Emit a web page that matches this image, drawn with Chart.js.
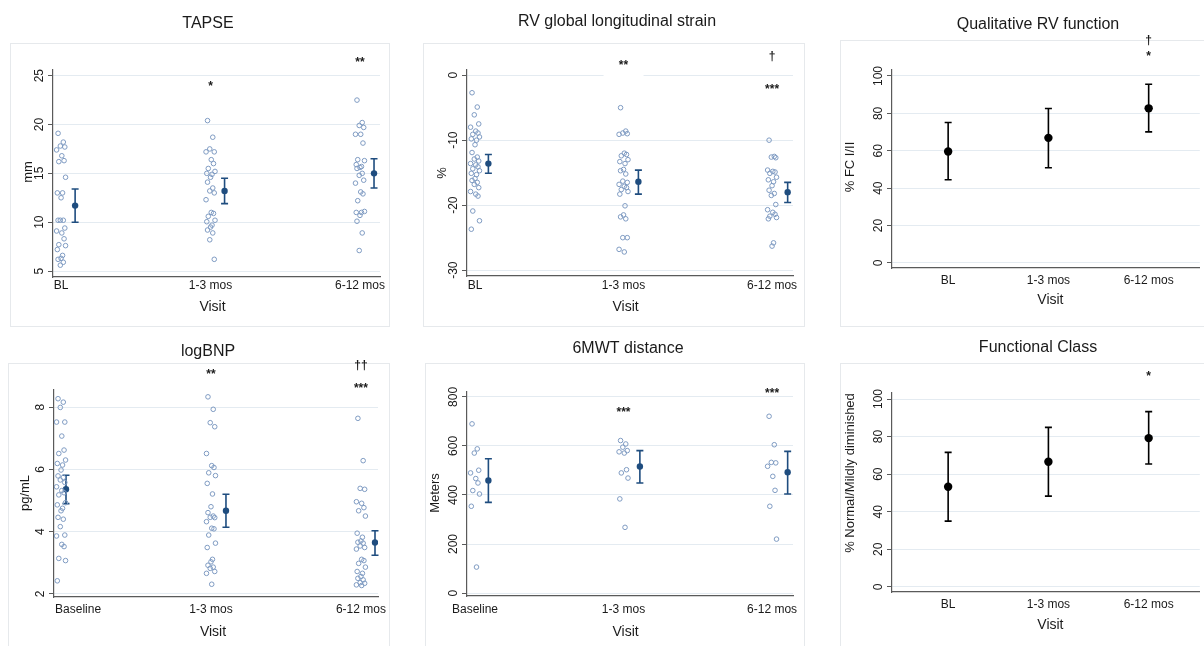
<!DOCTYPE html>
<html>
<head>
<meta charset="utf-8">
<script src="https://cdn.jsdelivr.net/npm/chart.js@4.4.1/dist/chart.umd.min.js"></script>
<style>
  body { margin: 0; width: 1204px; height: 646px; overflow: hidden; background: #fff; position: relative; }
  .caja { position: absolute; border: 1px solid #e6e9ec; }
  canvas { position: absolute; left: 0; top: 0; }
</style>
</head>
<body>
<div class="caja" style="left:10px;top:43px;width:378px;height:282px"></div>
<div class="caja" style="left:423px;top:43px;width:380px;height:282px"></div>
<div class="caja" style="left:840px;top:40px;width:400px;height:285px"></div>
<div class="caja" style="left:8px;top:363px;width:380px;height:300px"></div>
<div class="caja" style="left:425px;top:363px;width:378px;height:300px"></div>
<div class="caja" style="left:840px;top:363px;width:400px;height:300px"></div>

<canvas id="g1" width="1204" height="646"></canvas>
<canvas id="g2" width="1204" height="646"></canvas>
<canvas id="g3" width="1204" height="646"></canvas>
<canvas id="g4" width="1204" height="646"></canvas>
<canvas id="g5" width="1204" height="646"></canvas>
<canvas id="g6" width="1204" height="646"></canvas>

<script>
// Etiquetas de las visitas
const visitas = ['BL', '1-3 mos', '6-12 mos'];
const visitasBNP = ['Baseline', '1-3 mos', '6-12 mos'];

// TAPSE (mm)
const tapseBL = [19.1, 18.2, 17.8, 17.7, 17.4, 16.8, 16.3, 16.2, 14.6, 13.0, 13.0, 12.5, 10.2, 10.2, 10.2, 9.4, 9.1, 8.9, 8.3, 7.7, 7.6, 7.2, 6.6, 6.3, 6.2, 5.9, 5.6];
const tapse13 = [20.4, 18.7, 17.5, 17.2, 17.2, 16.4, 16.0, 15.5, 15.2, 15.0, 14.9, 14.6, 14.1, 13.5, 13.2, 13.0, 12.3, 11.0, 10.9, 10.6, 10.2, 10.05, 9.7, 9.5, 9.2, 8.9, 8.2, 6.2];
const tapse612 = [22.5, 20.2, 19.9, 19.7, 19.0, 19.0, 18.1, 16.4, 16.3, 15.9, 15.7, 15.6, 15.5, 15.0, 14.8, 14.3, 14.0, 13.1, 12.9, 12.2, 11.1, 11.0, 11.0, 10.7, 10.1, 8.9, 7.1];
const tapseMedia = [11.7, 13.2, 15.0];
const tapseInf = [10.0, 11.9, 13.5];
const tapseSup = [13.4, 14.5, 16.5];
const tapseTicks = [5, 10, 15, 20, 25];

// RV global longitudinal strain (%)
const rvglsBL = [-2.7, -4.9, -6.1, -7.5, -8.0, -8.6, -8.9, -9.1, -9.5, -9.8, -10.0, -10.7, -11.9, -12.6, -12.9, -13.2, -13.6, -13.8, -14.1, -14.4, -14.7, -15.1, -15.3, -15.9, -16.2, -16.5, -16.8, -17.3, -17.9, -18.3, -18.6, -20.9, -22.4, -23.7];
const rvgls13 = [-5.0, -8.6, -8.9, -9.0, -9.1, -12.0, -12.2, -12.4, -13.0, -13.3, -13.6, -14.5, -14.7, -15.2, -16.3, -16.5, -16.8, -17.1, -17.3, -17.6, -17.9, -18.3, -20.1, -21.5, -21.8, -22.1, -25.0, -25.0, -26.8, -27.2];
const rvgls612 = [-10.0, -12.5, -12.6, -12.7, -14.6, -14.8, -14.9, -15.1, -15.7, -16.1, -16.4, -17.0, -17.7, -18.2, -18.5, -19.9, -20.7, -21.1, -21.4, -21.7, -21.9, -22.1, -25.8, -26.3];
const rvglsMedia = [-13.6, -16.4, -18.0];
const rvglsInf = [-15.1, -18.3, -19.6];
const rvglsSup = [-12.2, -14.6, -16.5];
const rvglsTicks = [-30, -20, -10, 0];

// Qualitative RV function (% FC I/II)
const cualMedia = [59.6, 66.9, 82.7];
const cualInf = [44.5, 50.9, 70.1];
const cualSup = [75.1, 82.6, 95.6];
const pctTicks = [0, 20, 40, 60, 80, 100];

// logBNP (pg/mL)
const bnpBL = [8.27, 8.16, 7.99, 7.52, 7.52, 7.07, 6.62, 6.51, 6.30, 6.19, 6.14, 5.98, 5.79, 5.74, 5.66, 5.58, 5.44, 5.32, 5.25, 5.18, 4.93, 4.86, 4.75, 4.67, 4.46, 4.40, 4.16, 3.89, 3.86, 3.59, 3.52, 3.14, 3.07, 2.42];
const bnp13 = [8.33, 7.93, 7.50, 7.37, 6.51, 6.12, 6.06, 5.89, 5.80, 5.55, 5.21, 4.80, 4.61, 4.50, 4.46, 4.45, 4.32, 4.11, 4.09, 3.89, 3.63, 3.49, 3.11, 3.03, 2.92, 2.86, 2.82, 2.72, 2.66, 2.31];
const bnp612 = [7.64, 6.28, 5.39, 5.36, 4.96, 4.91, 4.77, 4.67, 4.50, 3.95, 3.82, 3.70, 3.66, 3.63, 3.54, 3.49, 3.44, 3.11, 3.07, 2.98, 2.86, 2.72, 2.66, 2.56, 2.50, 2.45, 2.36, 2.34, 2.29, 2.27];
const bnpMedia = [5.36, 4.67, 3.65];
const bnpInf = [4.90, 4.14, 3.24];
const bnpSup = [5.81, 5.20, 4.03];
const bnpTicks = [2, 4, 6, 8];

// 6MWT distance (Meters)
const mwtBL = [690, 588, 571, 501, 490, 467, 449, 418, 404, 354, 106];
const mwt13 = [622, 608, 595, 581, 576, 571, 503, 490, 469, 384, 268];
const mwt612 = [721, 605, 533, 531, 517, 476, 419, 354, 220];
const mwtMedia = [459, 516, 493];
const mwtInf = [370, 449, 404];
const mwtSup = [548, 581, 578];
const mwtTicks = [0, 200, 400, 600, 800];

// Functional Class (% Normal/Mildly diminished)
const fcMedia = [53.3, 66.6, 79.2];
const fcInf = [35.0, 48.3, 65.4];
const fcSup = [71.6, 84.9, 93.3];

const FUENTE = '"Liberation Sans", Arial, sans-serif';
const JIT = [-0.02, 0.015, -0.005, 0.025, -0.03, 0.005, 0.02, -0.015, 0.03, -0.025, 0.01, 0];

function puntos(valores, visita) {
    return valores.map((v, i) => ({ x: visita + JIT[i % JIT.length], y: v }));
}

function decorar(p) {
    return {
        id: 'decorar',
        beforeDatasetsDraw(chart) {
            const { ctx, scales: { x, y } } = chart;
            ctx.save();
            ctx.strokeStyle = p.color;
            ctx.lineWidth = 1.6;
            p.medias.forEach((m, k) => {
                const px = x.getPixelForValue(k + p.desplaz[k]);
                const y1 = y.getPixelForValue(p.inf[k]);
                const y2 = y.getPixelForValue(p.sup[k]);
                ctx.beginPath();
                ctx.moveTo(px, y1); ctx.lineTo(px, y2);
                ctx.moveTo(px - 3.5, y1); ctx.lineTo(px + 3.5, y1);
                ctx.moveTo(px - 3.5, y2); ctx.lineTo(px + 3.5, y2);
                ctx.stroke();
            });
            ctx.restore();
        },
        afterDraw(chart) {
            const { ctx, chartArea, scales: { x, y } } = chart;
            ctx.save();
            ctx.fillStyle = '#1a1a1a';
            ctx.textAlign = 'center';
            ctx.textBaseline = 'middle';

            ctx.font = '16px ' + FUENTE;
            ctx.fillText(p.titulo, p.posTitulo[0], p.posTitulo[1]);

            // etiquetas del eje x
            ctx.font = '12px ' + FUENTE;
            p.etiquetas.forEach((t, k) => {
                ctx.fillText(t, x.getPixelForValue(k) + (p.corrEtiq ? p.corrEtiq[k] : 0), p.yEtiq);
            });
            ctx.font = '14px ' + FUENTE;
            ctx.fillText('Visit', x.getPixelForValue(1) + 2, p.yVisit);

            // ticks del eje y, girados
            ctx.font = '12px ' + FUENTE;
            y.ticks.forEach(t => {
                ctx.save();
                ctx.translate(chartArea.left - 13.5, y.getPixelForValue(t.value));
                ctx.rotate(-Math.PI / 2);
                ctx.fillText(String(t.value), 0, 0);
                ctx.restore();
            });

            ctx.save();
            ctx.font = '13px ' + FUENTE;
            ctx.translate(p.posTituloY[0], p.posTituloY[1]);
            ctx.rotate(-Math.PI / 2);
            ctx.fillText(p.tituloY, 0, 0);
            ctx.restore();

            // marcas de significancia (las que tapan la rejilla llevan fondo blanco)
            ctx.font = 'bold 12px ' + FUENTE;
            p.marcas.forEach(([texto, k, py, fondo]) => {
                const px = x.getPixelForValue(k);
                if (fondo) {
                    ctx.fillStyle = '#fff';
                    ctx.fillRect(px - 20, py - 11, 40, 24);
                    ctx.fillStyle = '#1a1a1a';
                }
                ctx.fillText(texto, px, py + 3);
            });
            ctx.restore();
        }
    };
}

function crearPanel(id, p) {
    const datasets = [];
    (p.grupos || []).forEach((vals, k) => datasets.push({
        data: puntos(vals, k),
        pointRadius: 2.3,
        pointBorderWidth: 1,
        pointBorderColor: '#7f9bc2',
        pointBackgroundColor: 'rgba(255,255,255,0)'
    }));
    datasets.push({
        data: p.medias.map((m, k) => ({ x: k + p.desplaz[k], y: m })),
        pointRadius: p.radio,
        pointBorderWidth: 0,
        pointBackgroundColor: p.color,
        pointBorderColor: p.color
    });

    const [l, t, r, b] = p.area;
    new Chart(document.getElementById(id), {
        type: 'scatter',
        data: { datasets },
        options: {
            responsive: false,
            animation: false,
            events: [],
            layout: { padding: { left: l - 10, top: t, right: 1204 - r, bottom: 646 - b - 10 } },
            plugins: { legend: { display: false }, tooltip: { enabled: false } },
            scales: {
                x: {
                    type: 'linear', min: p.xRango[0], max: p.xRango[1],
                    afterFit: s => { s.height = 10; },
                    ticks: { display: false },
                    grid: { display: false },
                    border: { color: '#5a5a5a', width: 1.2 }
                },
                y: {
                    type: 'linear', min: p.yRango[0], max: p.yRango[1],
                    afterFit: s => { s.width = 10; },
                    afterBuildTicks: s => { s.ticks = p.ticks.map(v => ({ value: v })); },
                    ticks: { display: false },
                    grid: { color: '#e4ebf1', lineWidth: 1, tickColor: '#5a5a5a', tickLength: 5, drawTicks: true },
                    border: { color: '#5a5a5a', width: 1.2 }
                }
            }
        },
        plugins: [decorar(p)]
    });
}

const azul = '#1f4d7f';

crearPanel('g1', {
    titulo: 'TAPSE', posTitulo: [208, 24], tituloY: 'mm', posTituloY: [28, 172],
    area: [53, 70, 380, 277], xRango: [-0.054, 2.134], yRango: [4.39, 25.58], ticks: tapseTicks,
    grupos: [tapseBL, tapse13, tapse612], medias: tapseMedia, inf: tapseInf, sup: tapseSup,
    desplaz: [0.094, 0.094, 0.094], color: azul, radio: 3.2,
    etiquetas: visitas, yEtiq: 286, yVisit: 307,
    marcas: [['*', 1, 84], ['**', 2, 60]]
});

crearPanel('g2', {
    titulo: 'RV global longitudinal strain', posTitulo: [617, 22], tituloY: '%', posTituloY: [442, 173],
    area: [467, 70, 793, 276], xRango: [-0.054, 2.141], yRango: [-30.9, 0.8], ticks: rvglsTicks,
    grupos: [rvglsBL, rvgls13, rvgls612], medias: rvglsMedia, inf: rvglsInf, sup: rvglsSup,
    desplaz: [0.09, 0.1, 0.105], color: azul, radio: 3.2,
    etiquetas: visitas, yEtiq: 286, yVisit: 307,
    marcas: [['**', 1, 63, true], ['***', 2, 87, true], ['\u2020', 2, 54]]
});

crearPanel('g3', {
    titulo: 'Qualitative RV function', posTitulo: [1038, 25], tituloY: '% FC I/II', posTituloY: [850, 167],
    area: [892, 70, 1204, 268], xRango: [-0.56, 2.51], yRango: [-2.7, 103.2], ticks: pctTicks,
    medias: cualMedia, inf: cualInf, sup: cualSup,
    desplaz: [0, 0, 0], color: '#000', radio: 4.2,
    etiquetas: visitas, yEtiq: 281, yVisit: 300,
    marcas: [['\u2020', 2, 38], ['*', 2, 54]]
});

crearPanel('g4', {
    titulo: 'logBNP', posTitulo: [208, 352], tituloY: 'pg/mL', posTituloY: [25, 493],
    area: [54, 390, 378, 597], xRango: [-0.047, 2.114], yRango: [1.9, 8.55], ticks: bnpTicks,
    grupos: [bnpBL, bnp13, bnp612], medias: bnpMedia, inf: bnpInf, sup: bnpSup,
    desplaz: [0.033, 0.1, 0.094], color: azul, radio: 3.2,
    etiquetas: visitasBNP, corrEtiq: [17, 0, 0], yEtiq: 610, yVisit: 632,
    marcas: [['**', 1, 372], ['\u2020\u2020', 2, 363], ['***', 2, 386]]
});

crearPanel('g5', {
    titulo: '6MWT distance', posTitulo: [628, 349], tituloY: 'Meters', posTituloY: [435, 493],
    area: [467, 392, 793, 596], xRango: [-0.054, 2.141], yRango: [-12, 820], ticks: mwtTicks,
    grupos: [mwtBL, mwt13, mwt612], medias: mwtMedia, inf: mwtInf, sup: mwtSup,
    desplaz: [0.09, 0.11, 0.105], color: azul, radio: 3.2,
    etiquetas: visitasBNP, yEtiq: 610, yVisit: 632,
    marcas: [['***', 1, 410], ['***', 2, 391]]
});

crearPanel('g6', {
    titulo: 'Functional Class', posTitulo: [1038, 348], tituloY: '% Normal/Mildly diminished', posTituloY: [850, 473],
    area: [892, 393, 1204, 592], xRango: [-0.56, 2.51], yRango: [-2.7, 103.2], ticks: pctTicks,
    medias: fcMedia, inf: fcInf, sup: fcSup,
    desplaz: [0, 0, 0], color: '#000', radio: 4.2,
    etiquetas: visitas, yEtiq: 605, yVisit: 625,
    marcas: [['*', 2, 374]]
});
</script>
</body>
</html>
